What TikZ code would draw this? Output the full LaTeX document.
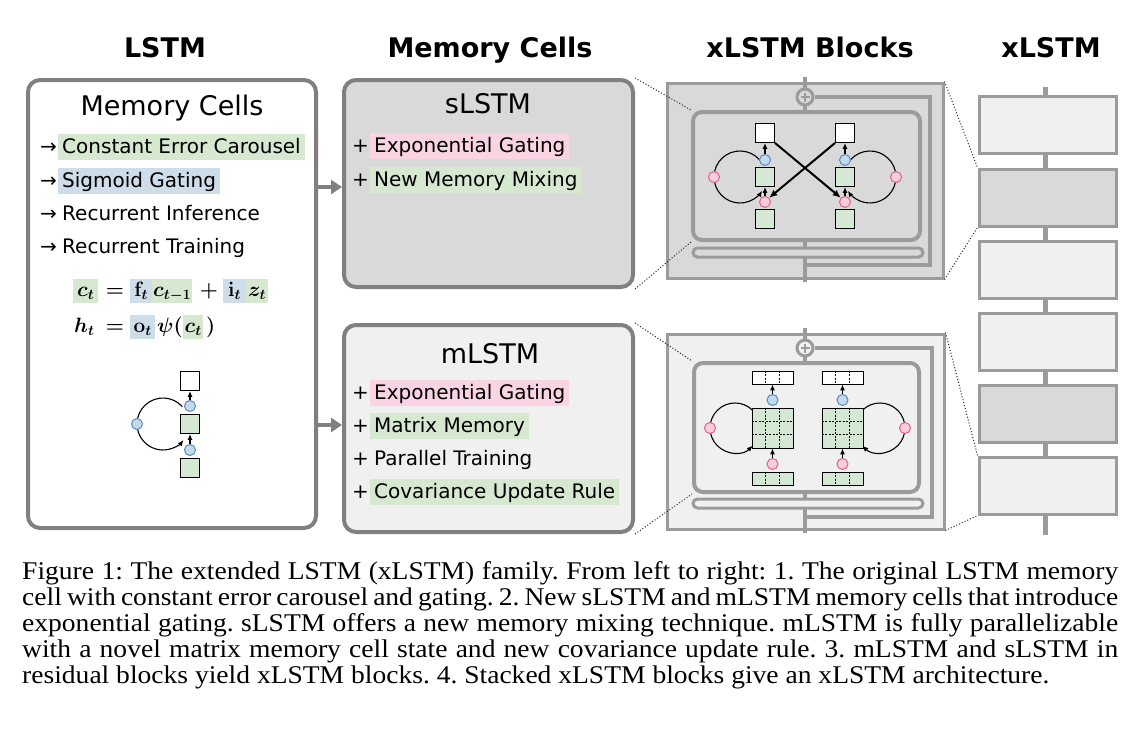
\documentclass[tikz,border=0pt]{standalone}
\usepackage[no-math]{fontspec}
\setmainfont{DejaVu Sans}
\newfontfamily\capfont{Liberation Serif}[FakeStretch=1.08]
\usetikzlibrary{arrows.meta,calc}
\definecolor{hgreen}{RGB}{214,232,208}
\definecolor{hblue}{RGB}{205,221,233}
\definecolor{hpink}{RGB}{250,212,226}
\definecolor{bord}{RGB}{128,128,128}
\definecolor{blkbord}{RGB}{155,155,155}
\definecolor{sfill}{RGB}{217,217,217}
\definecolor{mfill}{RGB}{240,240,240}
\definecolor{cgreen}{RGB}{213,232,212}
\definecolor{pinkc}{RGB}{248,206,220}
\definecolor{pinkd}{RGB}{225,95,140}
\definecolor{bluec}{RGB}{196,217,235}
\definecolor{blued}{RGB}{90,140,190}
\begin{document}
\begin{tikzpicture}[x=1pt,y=-1pt,
  hdr/.style={anchor=base,inner sep=0pt,font=\fontsize{27}{30}\selectfont\bfseries},
  ttl/.style={anchor=base,inner sep=0pt,font=\fontsize{27}{30}\selectfont},
  itm/.style={anchor=base west,inner xsep=4pt,inner ysep=0pt,text height=19pt,text depth=7pt,font=\fontsize{20}{24}\selectfont},
  bullet/.style={anchor=base west,inner sep=0pt,font=\fontsize{20}{24}\selectfont},
  bigbox/.style={draw=bord,line width=4pt,rounded corners=12pt},
  garrow/.style={draw=bord,line width=4pt,-{Triangle[length=11pt,width=14pt]}},
  eq/.style={anchor=base west,inner sep=0pt,text height=17pt,text depth=7pt,font=\fontsize{21}{24}\selectfont\boldmath},
  eqc/.style={anchor=base,inner sep=0pt,font=\fontsize{21}{24}\selectfont\boldmath},
  sq/.style={draw=black,line width=0.9pt,minimum size=19pt,inner sep=0pt},
  gsq/.style={sq,fill=cgreen},
  wsq/.style={sq,fill=white},
  bc/.style={circle,draw=blued,fill=bluec,line width=1pt,minimum size=11pt,inner sep=0pt},
  pc/.style={circle,draw=pinkd,fill=pinkc,line width=1pt,minimum size=11pt,inner sep=0pt},
  carr/.style={draw=black,line width=1.1pt,-{Latex[length=6pt,width=5pt]}},
  cross/.style={draw=black,line width=2pt,-{Latex[length=8pt,width=7pt]}},
  blkouter/.style={draw=blkbord,line width=3pt,inner sep=0pt},
  blkinner/.style={draw=blkbord,line width=4pt,rounded corners=9pt,inner sep=0pt},
  pill/.style={draw=blkbord,line width=3pt,rounded corners=4.5pt,minimum width=230pt,minimum height=9pt,inner sep=0pt},
  mainline/.style={draw=blkbord,line width=4pt},
  plusc/.style={circle,draw=blkbord,line width=3pt,minimum size=16pt,inner sep=0pt},
  dotc/.style={draw=black!85,line width=1pt,dotted},
  xbox/.style={draw=blkbord,line width=3pt,minimum width=137pt,minimum height=57pt,inner sep=0pt},
  bar/.style={draw=black,line width=0.9pt,minimum width=41pt,minimum height=13pt,inner sep=0pt},
  mat/.style={draw=black,line width=0.9pt,minimum width=41pt,minimum height=40pt,inner sep=0pt,fill=cgreen},
  grid/.style={draw=black,line width=0.8pt,dash pattern=on 2pt off 1.5pt},
  capl/.style={anchor=base west,inner sep=0pt,font=\capfont\fontsize{25.5}{26}\selectfont\frenchspacing}
]
\useasboundingbox (0,0) rectangle (1138,736);
\fill[white] (0,0) rectangle (1138,736);

% headers
\node[hdr] (hL) at (165,57) {LSTM};
\node[hdr] (hM) at (490,57) {Memory Cells};
\node[hdr] (hB) at (810,57) {xLSTM Blocks};
\node[hdr] (hX) at (1051,57) {xLSTM};

% LSTM box
\node[bigbox,fill=white,minimum width=288pt,minimum height=448pt] (lstm) at (172,304) {};
\node[ttl] (lT) at (172,115) {Memory Cells};
\node[bullet] (a1) at (40,153) {→};
\node[itm,fill=hgreen] (l1) at (58,153) {Constant Error Carousel};
\node[bullet] (a2) at (40,187) {→};
\node[itm,fill=hblue] (l2) at (58,187) {Sigmoid Gating};
\node[bullet] (a3) at (40,220) {→};
\node[itm] (l3) at (58,220) {Recurrent Inference};
\node[bullet] (a4) at (40,253) {→};
\node[itm] (l4) at (58,253) {Recurrent Training};

% equations
\node[eq,fill=hgreen,minimum width=25pt] (e1) at (73,296) {$c_t$};
\node[eqc] (e2) at (115,296) {$=$};
\node[eq,fill=hblue,minimum width=22pt] (e3) at (130,296) {$\mathbf{f}_t$};
\node[eq,fill=hgreen,minimum width=40pt] (e4) at (152,296) {$c_{t-1}$};
\node[eqc] (e5) at (209,296) {$+$};
\node[eq,fill=hblue,minimum width=23pt] (e6) at (223,296) {$\mathbf{i}_t$};
\node[eq,fill=hgreen,minimum width=22pt] (e7) at (246,296) {$z_t$};
\node[eq] (f1) at (74,332) {$h_t$};
\node[eqc] (f2) at (115,332) {$=$};
\node[eq,fill=hblue,minimum width=25pt] (f3) at (130,332) {$\mathbf{o}_t$};
\node[eq] (f4) at (157,332) {$\psi($};
\node[eq,fill=hgreen,minimum width=20pt] (f5) at (183,332) {$c_t$};
\node[eq] (f6) at (206,332) {$)$};

% small LSTM cell
\coordinate (lc) at (163,424);
\draw[carr] ([shift={(42:26pt)}]lc) arc[start angle=42,end angle=322,radius=26pt];
\node[wsq] (lW) at (190,381) {};
\node[gsq] (lG) at (190,424) {};
\node[gsq] (lG2) at (190,468) {};
\node[bc] (lb1) at (190,406) {};
\node[bc] (lb2) at (190,450) {};
\node[bc] (lb3) at (137,424) {};
\draw[carr] (lb1) -- (lW);
\draw[carr] (lb2) -- (lG);

% sLSTM box
\node[bigbox,fill=sfill,minimum width=289pt,minimum height=207pt] (sbox) at (488.5,183.5) {};
\node[ttl] (sT) at (488,113) {sLSTM};
\node[bullet] (sp1) at (352,152) {+};
\node[itm,fill=hpink] (s1) at (370,152) {Exponential Gating};
\node[bullet] (sp2) at (352,186) {+};
\node[itm,fill=hgreen] (s2) at (370,186) {New Memory Mixing};

% mLSTM box
\node[bigbox,fill=mfill,minimum width=289pt,minimum height=207pt] (mbox) at (488.5,428.5) {};
\node[ttl] (mT) at (490,363) {mLSTM};
\node[bullet] (mp1) at (352,399) {+};
\node[itm,fill=hpink] (m1) at (370,399) {Exponential Gating};
\node[bullet] (mp2) at (352,432) {+};
\node[itm,fill=hgreen] (m2) at (370,432) {Matrix Memory};
\node[bullet] (mp3) at (352,465) {+};
\node[itm] (m3) at (370,465) {Parallel Training};
\node[bullet] (mp4) at (352,498) {+};
\node[itm,fill=hgreen] (m4) at (370,498) {Covariance Update Rule};

\draw[garrow] (lstm.east |- 0,187) -- (sbox.west |- 0,187);
\draw[garrow] (lstm.east |- 0,425) -- (mbox.west |- 0,425);

% sLSTM block
\node[blkouter,fill=sfill,minimum width=276pt,minimum height=195pt] (sb) at (805,180.5) {};
\coordinate (sbt) at (805,77);
\coordinate (sbb) at (805,282);
\coordinate (sk1) at (930,97);
\coordinate (sk2) at (805,265);
\draw[mainline] (sbt) -- (sbb);
\node[plusc,fill=sfill] (splus) at (805,97) {};
\draw[mainline] (splus.east) -- (sk1) |- (sk2);
\node[blkinner,fill=sfill,minimum width=227pt,minimum height=128pt] (si) at (806.5,176) {};
\node[pill,fill=sfill] (spill) at (808,252.5) {};
\draw[blkbord,line width=1.6pt] ($(splus)+(-4.5,0)$) -- ($(splus)+(4.5,0)$) ($(splus)+(0,-4.5)$) -- ($(splus)+(0,4.5)$);

\coordinate (slc) at (740,177);
\coordinate (src) at (870,177);
\draw[carr] ([shift={(32:26pt)}]slc) arc[start angle=32,end angle=328,radius=26pt];
\draw[carr] ([shift={(148:26pt)}]src) arc[start angle=148,end angle=-148,radius=26pt];
\node[wsq] (sW1) at (765,133) {};
\node[gsq] (sG1) at (765,177) {};
\node[gsq] (sH1) at (765,219) {};
\node[bc] (sb1) at (765,160) {};
\node[pc] (spc1) at (765,202) {};
\node[pc] (sl1) at (714,177) {};
\node[wsq] (sW2) at (845,133) {};
\node[gsq] (sG2) at (845,177) {};
\node[gsq] (sH2) at (845,219) {};
\node[bc] (sb2) at (845,160) {};
\node[pc] (spc2) at (845,202) {};
\node[pc] (sl2) at (896,177) {};
\draw[carr] (sb1) -- (sW1);
\draw[carr] (spc1) -- (sG1);
\draw[carr] (sb2) -- (sW2);
\draw[carr] (spc2) -- (sG2);
\draw[cross] (sW1.south east) -- (spc2.north west);
\draw[cross] (sW2.south west) -- (spc1.north east);

% mLSTM block
\node[blkouter,fill=mfill,minimum width=277pt,minimum height=195pt] (mb) at (805.5,431.5) {};
\coordinate (mbt) at (805,328);
\coordinate (mbb) at (805,533);
\coordinate (mk1) at (932,348);
\coordinate (mk2) at (805,517);
\draw[mainline] (mbt) -- (mbb);
\node[plusc,fill=mfill] (mplus) at (805,348) {};
\draw[mainline] (mplus.east) -- (mk1) |- (mk2);
\node[blkinner,fill=mfill,minimum width=225pt,minimum height=129pt] (mi) at (806.5,427.5) {};
\node[pill,fill=mfill] (mpill) at (808,503.5) {};
\draw[blkbord,line width=1.6pt] ($(mplus)+(-4.5,0)$) -- ($(mplus)+(4.5,0)$) ($(mplus)+(0,-4.5)$) -- ($(mplus)+(0,4.5)$);

\coordinate (mlc) at (735,428);
\coordinate (mrc) at (880,428);
\draw[carr] ([shift={(45:25pt)}]mlc) arc[start angle=45,end angle=315,radius=25pt];
\draw[carr] ([shift={(135:25pt)}]mrc) arc[start angle=135,end angle=-135,radius=25pt];
\foreach \n/\x in {L/772.5,R/842.5}{
  \node[bar,fill=white] (mW\n) at (\x,377.5) {};
  \node[mat] (mM\n) at (\x,428) {};
  \node[bar,fill=cgreen] (mZ\n) at (\x,478.5) {};
  \node[bc] (mbc\n) at (\x,400) {};
  \node[pc] (mpc\n) at (\x,464) {};
  \draw[carr] (mbc\n) -- (mW\n);
  \draw[carr] (mpc\n) -- (mM\n);
  \foreach \f in {0.3333,0.6667}{
    \draw[grid] ($(mW\n.north west)!\f!(mW\n.north east)$) -- ($(mW\n.south west)!\f!(mW\n.south east)$);
    \draw[grid] ($(mZ\n.north west)!\f!(mZ\n.north east)$) -- ($(mZ\n.south west)!\f!(mZ\n.south east)$);
    \draw[grid] ($(mM\n.north west)!\f!(mM\n.north east)$) -- ($(mM\n.south west)!\f!(mM\n.south east)$);
    \draw[grid] ($(mM\n.north west)!\f!(mM\n.south west)$) -- ($(mM\n.north east)!\f!(mM\n.south east)$);
  }
}
\node[pc] (ml1) at (710,428) {};
\node[pc] (ml2) at (905,428) {};

% xLSTM column
\coordinate (xt) at (1045,87);
\coordinate (xb) at (1045,535);
\draw[draw=blkbord,line width=5pt] (xt) -- (xb);
\node[xbox,fill=mfill] (x1) at (1047.5,125) {};
\node[xbox,fill=sfill] (x2) at (1047.5,197.5) {};
\node[xbox,fill=mfill] (x3) at (1047.5,269.5) {};
\node[xbox,fill=mfill] (x4) at (1047.5,341.5) {};
\node[xbox,fill=sfill] (x5) at (1047.5,413.5) {};
\node[xbox,fill=mfill] (x6) at (1047.5,485.5) {};

% dotted zoom lines
\draw[dotc] (sbox.north east) -- (si.north west);
\draw[dotc] (sbox.south east) -- (si.south west);
\draw[dotc] (mbox.north east) -- (mi.north west);
\draw[dotc] (mbox.south east) -- (mi.south west);
\draw[dotc] (sb.north east) -- (x2.north west);
\draw[dotc] (sb.south east) -- (x2.south west);
\draw[dotc] (mb.north east) -- (x6.north west);
\draw[dotc] (mb.south east) -- (x6.south west);

% caption
\node[capl] (c1) at (22,579) {\makebox[1096pt][s]{Figure 1: The extended LSTM (xLSTM) family. From left to right: 1. The original LSTM memory}};
\node[capl] (c2) at (22,605) {\makebox[1096pt][s]{cell with constant error carousel and gating. 2. New sLSTM and mLSTM memory cells that introduce}};
\node[capl] (c3) at (22,631) {\makebox[1096pt][s]{exponential gating. sLSTM offers a new memory mixing technique. mLSTM is fully parallelizable}};
\node[capl] (c4) at (22,657) {\makebox[1096pt][s]{with a novel matrix memory cell state and new covariance update rule. 3. mLSTM and sLSTM in}};
\node[capl] (c5) at (22,683) {residual blocks yield xLSTM blocks. 4. Stacked xLSTM blocks give an xLSTM architecture.};
\end{tikzpicture}
\end{document}
